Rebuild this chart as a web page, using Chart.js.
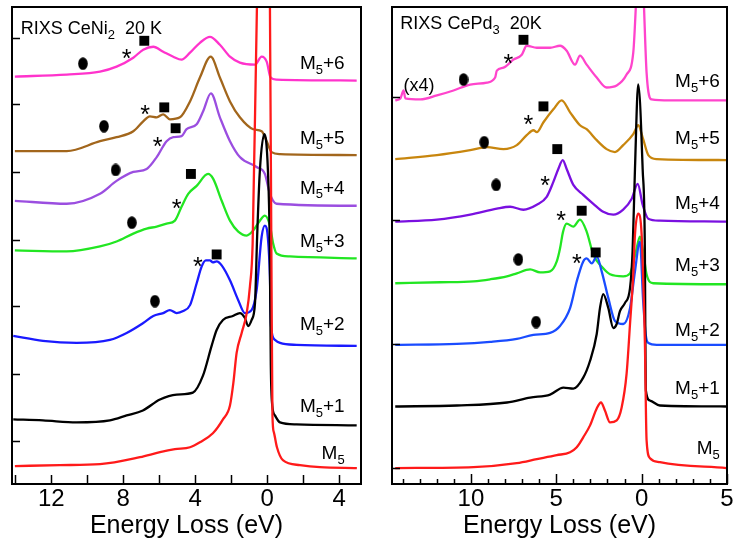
<!DOCTYPE html>
<html>
<head>
<meta charset="utf-8">
<script src="https://cdn.jsdelivr.net/npm/chart.js@4.4.1/dist/chart.umd.min.js"></script>
<style>
  body { margin: 0; background: #fff; }
  #wrap { position: relative; width: 735px; height: 550px; }
  .panel { position: absolute; top: 0; height: 550px; }
  #left { left: 0; width: 370px; }
  #right { left: 380px; width: 355px; }
</style>
</head>
<body>
<div id="wrap">
  <div class="panel" id="left"><canvas id="ceni"></canvas></div>
  <div class="panel" id="right"><canvas id="cepd"></canvas></div>
</div>
<script>
const FONT = '"Liberation Sans", Arial, Helvetica, sans-serif';

const seriesNames = ['M_5', 'M_5+1', 'M_5+2', 'M_5+3', 'M_5+4', 'M_5+5', 'M_5+6'];

// CeNi2 spectra: [energy loss (eV), intensity (arb. units)]
const ceNiM5 = [[14.02,19],[11.52,20],[9.29,21],[7.07,28],[5.96,33],[5.13,36],[4.29,38],[3.74,43],[3.02,52],[2.46,66],[2.07,80],[1.88,103],[1.70,133],[1.42,153],[1.14,173],[0.96,200],[0.81,243],[0.57,483],[0.21,733],[-0.15,483],[-0.24,203],[-0.29,70],[-0.37,53],[-0.54,38],[-0.87,25],[-1.82,20],[-2.93,18],[-4.98,17]];
const ceNiM51 = [[14.11,66],[12.46,65],[10.59,63],[8.74,65],[7.81,70],[6.91,75],[5.96,86],[5.03,91],[4.13,93],[3.57,110],[3.09,140],[2.81,156],[2.46,166],[1.91,170],[1.52,173],[1.24,168],[1.06,160],[0.87,166],[0.68,183],[0.56,250],[0.41,316],[0.16,353],[-0.04,316],[-0.14,243],[-0.20,120],[-0.28,80],[-0.43,70],[-0.71,63],[-1.63,61],[-4.97,60]];
const ceNiM52 = [[14.11,150],[12.46,145],[10.59,143],[8.74,146],[7.81,153],[6.89,163],[6.33,170],[5.78,173],[5.41,176],[5.03,173],[4.67,175],[4.29,181],[3.92,203],[3.64,220],[3.41,226],[3.18,226],[3.02,224],[2.81,225],[2.53,221],[2.07,206],[1.61,186],[1.24,173],[0.87,176],[0.59,196],[0.31,250],[0.13,261],[-0.04,248],[-0.15,210],[-0.21,160],[-0.43,146],[-0.71,143],[-1.63,141],[-4.97,140]];
const ceNiM53 = [[14.02,236],[11.14,235],[9.29,240],[8.37,245],[7.44,253],[6.70,258],[6.14,260],[5.59,263],[5.13,266],[4.76,280],[4.39,293],[3.92,301],[3.29,313],[3.00,308],[2.53,286],[2.07,266],[1.61,255],[1.14,251],[0.78,256],[0.41,266],[0.13,271],[-0.15,261],[-0.33,243],[-0.52,233],[-1.26,230],[-4.97,228]];
const ceNiM54 = [[14.02,286],[11.14,283],[9.29,293],[8.37,306],[7.44,315],[6.70,318],[6.14,330],[5.59,346],[5.22,350],[4.76,351],[4.48,358],[3.92,363],[3.56,376],[3.13,394],[2.63,370],[2.07,346],[1.52,330],[0.59,320],[0.13,313],[-0.15,293],[-0.52,283],[-4.97,281]];
const ceNiM55 = [[14.02,336],[11.14,336],[9.29,346],[8.37,350],[7.44,356],[6.89,366],[6.52,371],[6.14,370],[5.78,373],[5.41,368],[4.85,370],[4.29,386],[3.74,410],[3.14,431],[2.63,410],[2.07,386],[1.52,370],[0.78,358],[0.31,356],[0.03,346],[-0.24,335],[-0.71,333],[-4.97,332]];
const ceNiM56 = [[14.02,411],[11.14,413],[9.29,416],[8.37,421],[7.44,430],[6.89,438],[6.33,441],[5.78,436],[5.22,431],[4.76,428],[4.29,435],[3.74,445],[3.18,451],[2.63,443],[2.07,431],[1.52,425],[0.68,423],[0.31,431],[0.03,426],[-0.19,410],[-0.52,408],[-4.97,407]];

const ceNiCircles = [[10.24,424],[9.07,361],[8.42,317],[7.52,264],[6.24,185]];
const ceNiSquares = [[6.83,447],[5.72,380],[5.09,359],[4.24,313],[2.81,232]];
const ceNiStars = [[7.81,435],[6.79,378],[6.09,346],[5.03,284],[3.85,225]];
const ceNiYTicks = [44, 112, 180, 247, 315, 383, 450];

// CePd3 spectra
const cePdM5 = [[14.43,16],[9.85,17],[7.31,21],[6.14,25],[4.97,29],[4.19,32],[3.80,37],[3.42,47],[3.02,59],[2.63,76],[2.38,82],[2.15,74],[1.85,62],[1.46,64],[1.17,77],[0.88,111],[0.68,161],[0.49,211],[0.39,251],[0.20,272],[0.00,251],[-0.13,184],[-0.19,144],[-0.29,44],[-0.49,26],[-1.07,22],[-4.97,16]];
const cePdM51 = [[14.43,78],[10.82,79],[7.89,82],[6.53,87],[5.36,90],[4.58,97],[4.00,96],[3.42,107],[3.02,124],[2.63,151],[2.44,177],[2.25,191],[1.95,177],[1.66,157],[1.46,161],[1.27,174],[0.98,182],[0.68,197],[0.53,234],[0.39,317],[0.20,402],[-0.06,317],[-0.19,234],[-0.22,144],[-0.25,94],[-0.49,84],[-1.07,79],[-4.97,78]];
const cePdM52 = [[14.43,140],[10.82,141],[8.87,143],[7.31,146],[6.34,150],[5.36,152],[4.78,159],[4.19,177],[3.80,204],[3.42,224],[3.22,227],[2.92,222],[2.63,229],[2.34,214],[1.95,187],[1.56,164],[1.08,161],[0.68,177],[0.39,214],[0.10,244],[-0.09,184],[-0.25,149],[-0.39,142],[-0.88,140],[-4.97,140]];
const cePdM53 = [[14.43,202],[11.80,203],[9.85,204],[8.87,206],[7.89,209],[7.31,212],[6.53,216],[5.95,213],[5.36,214],[4.97,224],[4.78,237],[4.60,254],[4.39,262],[4.00,259],[3.61,266],[3.22,254],[2.83,231],[2.25,217],[1.85,211],[1.08,209],[0.68,212],[0.33,234],[0.10,249],[-0.13,229],[-0.29,211],[-0.68,202],[-4.97,201]];
const cePdM54 = [[14.43,264],[11.99,266],[10.04,271],[8.48,277],[7.70,279],[6.92,276],[6.14,281],[5.56,289],[5.17,304],[4.88,317],[4.62,326],[4.39,317],[4.00,301],[3.42,291],[2.83,282],[2.25,274],[1.66,271],[1.08,276],[0.58,287],[0.23,302],[-0.06,281],[-0.39,267],[-1.07,265],[-4.97,264]];
const cePdM55 = [[14.43,327],[11.99,331],[10.04,336],[9.06,339],[8.09,337],[7.31,341],[6.73,351],[6.34,356],[6.14,354],[5.75,364],[5.17,377],[4.68,386],[4.19,374],[3.61,361],[3.22,357],[2.63,346],[2.05,337],[1.56,334],[1.08,341],[0.49,352],[0.20,361],[-0.09,347],[-0.39,331],[-0.88,327],[-4.97,326]];
const cePdM56 = [[14.43,386],[14.13,388],[13.94,396],[13.84,388],[12.96,387],[11.99,391],[11.02,396],[10.04,402],[9.06,404],[8.58,409],[8.48,416],[8.09,419],[7.51,427],[7.02,432],[6.73,441],[6.14,439],[5.36,439],[4.78,441],[4.39,436],[3.90,422],[3.61,431],[3.22,422],[2.63,409],[2.05,399],[1.46,401],[0.88,412],[0.49,434],[0.33,484],[0.10,584],[-0.13,484],[-0.29,414],[-0.58,387],[-1.65,386],[-4.97,386]];

const cePdCircles = [[10.43,407],[9.22,344],[8.52,301],[7.22,226],[6.18,163]];
const cePdSquares = [[6.92,447],[5.75,380],[4.94,337],[3.51,275],[2.69,233]];
const cePdStars = [[7.80,429],[6.63,367],[5.65,306],[4.72,271],[3.80,227]];
const cePdYTicks = [16, 141, 266, 389];

const ceNiColors = ['#ff1a1a', '#000000', '#1a1aff', '#22e622', '#9b4ee0', '#a2661c', '#ff33cc'];
const cePdColors = ['#ff1a1a', '#000000', '#1a4cff', '#22e622', '#7a10e0', '#c8860e', '#ff44cc'];

function toXY(arr) {
  return arr.map(([x, y]) => ({ x, y }));
}

function ellipseMark(w, h) {
  const c = document.createElement('canvas');
  c.width = w; c.height = h;
  const g = c.getContext('2d');
  g.fillStyle = '#000';
  g.beginPath();
  g.ellipse(w / 2, h / 2, w / 2 - 0.2, h / 2 - 0.2, 0, 0, Math.PI * 2);
  g.fill();
  return c;
}

// draw text where "_x" makes x a subscript
function drawSubText(ctx, str, x, y, size, align) {
  const parts = [];
  for (let i = 0; i < str.length; i++) {
    if (str[i] === '_') { parts.push({ t: str[i + 1], sub: true }); i++; }
    else if (parts.length && !parts[parts.length - 1].sub) parts[parts.length - 1].t += str[i];
    else parts.push({ t: str[i], sub: false });
  }
  const subSize = Math.round(size * 0.7);
  let total = 0;
  parts.forEach(p => {
    ctx.font = (p.sub ? subSize : size) + 'px ' + FONT;
    p.w = ctx.measureText(p.t).width;
    total += p.w;
  });
  let cx = align === 'right' ? x - total : x;
  ctx.textAlign = 'left';
  ctx.textBaseline = 'alphabetic';
  const base = y + size * 0.36;
  parts.forEach(p => {
    ctx.font = (p.sub ? subSize : size) + 'px ' + FONT;
    ctx.fillText(p.t, cx, p.sub ? base + size * 0.25 : base);
    cx += p.w;
  });
}

const decor = {
  id: 'decor',
  afterDatasetsDraw(chart, args, opts) {
    const { ctx, chartArea: a, scales: { x, y } } = chart;
    ctx.save();
    ctx.fillStyle = '#000';
    ctx.strokeStyle = '#000';

    // asterisks
    ctx.font = '25px ' + FONT;
    ctx.textAlign = 'center';
    ctx.textBaseline = 'alphabetic';
    opts.stars.forEach(([e, v]) => {
      ctx.fillText('*', x.getPixelForValue(e), y.getPixelForValue(v) + 14);
    });

    // series labels
    opts.labels.forEach((lab, i) => {
      drawSubText(ctx, seriesNames[i], x.getPixelForValue(opts.labelE), y.getPixelForValue(lab), 19, 'right');
    });
    opts.texts.forEach(t => {
      drawSubText(ctx, t.s, x.getPixelForValue(t.e), y.getPixelForValue(t.v), 18, 'left');
    });

    // frame
    ctx.lineWidth = 2;
    ctx.strokeRect(a.left, a.top, a.right - a.left, a.bottom - a.top);

    // inward ticks
    ctx.lineWidth = 1.5;
    ctx.beginPath();
    opts.yTicks.forEach(v => {
      const py = Math.round(y.getPixelForValue(v)) + 0.5;
      ctx.moveTo(a.left, py);
      ctx.lineTo(a.left + 8, py);
    });
    const k0 = Math.ceil(x.min / opts.minor), k1 = Math.floor(x.max / opts.minor);
    for (let k = k0; k <= k1; k++) {
      const v = k * opts.minor;
      const px = Math.round(x.getPixelForValue(v)) + 0.5;
      const len = (Math.abs(v) % opts.major === 0) ? opts.majorLen : opts.minorLen;
      ctx.moveTo(px, a.bottom);
      ctx.lineTo(px, a.bottom - len);
    }
    ctx.stroke();
    ctx.restore();
  }
};

function makeChart(id, cfg) {
  const curves = cfg.series.map((s, i) => ({
    label: seriesNames[i],
    data: toXY(s),
    borderColor: cfg.colors[i],
    borderWidth: 2.3,
    pointRadius: 0,
    fill: false,
    cubicInterpolationMode: 'monotone'
  }));
  const markers = [
    { label: 'sq', data: toXY(cfg.squares), showLine: false, pointStyle: 'rect', pointRadius: 7, backgroundColor: '#000', borderWidth: 0 },
    { label: 'ci', data: toXY(cfg.circles), showLine: false, pointStyle: ellipseMark(10, 13), pointRadius: 6, borderWidth: 0 }
  ];
  return new Chart(document.getElementById(id), {
    type: 'line',
    data: { datasets: markers.concat(curves) },
    options: {
      responsive: true,
      maintainAspectRatio: false,
      animation: false,
      events: [],
      layout: { padding: { left: 12, right: cfg.padRight, top: 4, bottom: 0 } },
      plugins: {
        legend: { display: false },
        tooltip: { enabled: false },
        decor: cfg.decor
      },
      scales: {
        x: {
          type: 'linear',
          reverse: true,
          min: cfg.xMin,
          max: cfg.xMax,
          grid: { display: false, drawTicks: false },
          border: { display: false },
          ticks: {
            stepSize: cfg.step,
            includeBounds: false,
            autoSkip: false,
            maxRotation: 0,
            padding: 1,
            color: '#000',
            font: { size: 24, family: FONT },
            callback: v => Math.abs(v)
          },
          title: {
            display: true,
            text: 'Energy Loss (eV)',
            color: '#000',
            font: { size: 25, family: FONT },
            padding: { top: 0, bottom: 9 }
          },
          afterFit(s) { s.height = 66; }
        },
        y: { display: false, min: cfg.yMin, max: cfg.yMax }
      }
    },
    plugins: [decor]
  });
}

makeChart('ceni', {
  series: [ceNiM5, ceNiM51, ceNiM52, ceNiM53, ceNiM54, ceNiM55, ceNiM56],
  colors: ceNiColors,
  squares: ceNiSquares,
  circles: ceNiCircles,
  xMin: -5.21, xMax: 14.18, step: 4,
  yMin: 1, yMax: 481,
  padRight: 9,
  decor: {
    stars: ceNiStars,
    labels: [33, 80, 163, 246, 300, 350, 425],
    labelE: -4.3,
    texts: [{ s: 'RIXS CeNi_2  20 K', e: 13.7, v: 460 }],
    yTicks: ceNiYTicks,
    minor: 2, major: 4, majorLen: 9, minorLen: 9
  }
});

makeChart('cepd', {
  series: [cePdM5, cePdM51, cePdM52, cePdM53, cePdM54, cePdM55, cePdM56],
  colors: cePdColors,
  squares: cePdSquares,
  circles: cePdCircles,
  xMin: -5, xMax: 14.62, step: 5,
  yMin: 0, yMax: 480,
  padRight: 8,
  decor: {
    stars: cePdStars,
    labels: [37, 97, 156, 221, 284, 349, 406],
    labelE: -4.58,
    texts: [
      { s: 'RIXS CePd_3  20K', e: 14.13, v: 464 },
      { s: '(x4)', e: 13.94, v: 402 }
    ],
    yTicks: cePdYTicks,
    minor: 1, major: 5, majorLen: 10, minorLen: 5
  }
});
</script>
</body>
</html>
